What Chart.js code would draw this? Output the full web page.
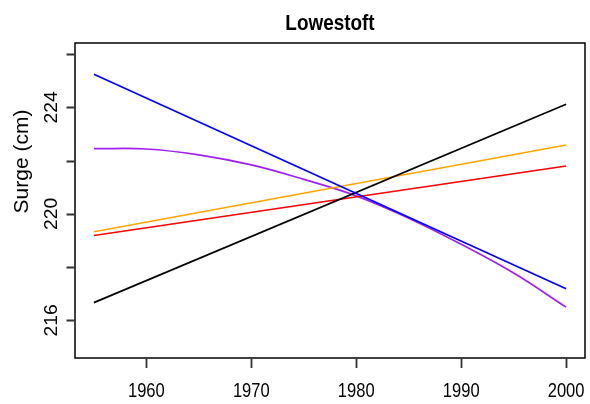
<!DOCTYPE html>
<html>
<head>
<meta charset="utf-8">
<script src="https://cdn.jsdelivr.net/npm/chart.js@4/dist/chart.umd.min.js"></script>
<style>
  html, body { margin: 0; padding: 0; background: #ffffff; }
  #wrap { width: 590px; height: 404px; }
</style>
</head>
<body>
<div id="wrap"><canvas id="c" width="590" height="404"></canvas></div>
<script>
// Fitted surge trends at Lowestoft (cm)
const lineYears = [1955, 2000];
const blueTrend = [225.25, 217.19];
const blackTrend = [216.67, 224.12];
const orangeTrend = [219.33, 222.59];
const redTrend = [219.19, 221.80];

const curveYears = [1955, 1960, 1965, 1970, 1975, 1980, 1985, 1990, 1995, 2000];
const purpleTrend = [222.45, 222.44, 222.22, 221.84, 221.30, 220.68, 219.84, 218.86, 217.78, 216.50];

const xTicks = [1960, 1970, 1980, 1990, 2000];
const yTicks = [216, 218, 220, 222, 224, 226];
const yTickLabels = ['216', '', '220', '', '224', ''];

const titleText = 'Lowestoft';
const yAxisTitle = 'Surge (cm)';

const FONT = '"Liberation Sans", Arial, Helvetica, sans-serif';
const GY = 1.17;   // vertical stretch of lettering
const NARROW = 0.92;

function pts(xs, ys) {
  return xs.map((x, i) => ({ x: x, y: ys[i] }));
}

function drawText(ctx, str, x, y, size, weight, rot, narrow) {
  ctx.save();
  ctx.translate(x, y);
  ctx.scale(1, GY);
  ctx.rotate(rot);
  ctx.scale(narrow, 1);
  ctx.font = weight + ' ' + size + 'px ' + FONT;
  ctx.fillStyle = '#000000';
  ctx.textAlign = 'center';
  ctx.textBaseline = 'alphabetic';
  ctx.fillText(str, 0, 0);
  ctx.restore();
}

// Box, axis ticks and lettering in the base-graphics style
const frame = {
  id: 'frame',
  afterDraw(chart) {
    const ctx = chart.ctx;
    const a = chart.chartArea;
    const xs = chart.scales.x, ys = chart.scales.y;

    ctx.save();
    ctx.strokeStyle = '#000000';
    ctx.lineWidth = 1.5;
    ctx.strokeRect(a.left, a.top, a.right - a.left, a.bottom - a.top);

    ctx.strokeStyle = '#333333';
    ctx.lineWidth = 1.8;
    ctx.beginPath();
    xTicks.forEach(v => {
      const px = Math.round(xs.getPixelForValue(v)) + 0.5;
      ctx.moveTo(px, a.bottom);
      ctx.lineTo(px, a.bottom + 10);
    });
    yTicks.forEach(v => {
      const py = Math.round(ys.getPixelForValue(v)) + 0.5;
      ctx.moveTo(a.left, py);
      ctx.lineTo(a.left - 8.5, py);
    });
    ctx.stroke();
    ctx.restore();

    xTicks.forEach(v => {
      drawText(ctx, String(v), xs.getPixelForValue(v), 397.4, 18, 'normal', 0, NARROW);
    });
    yTicks.forEach((v, i) => {
      if (yTickLabels[i]) {
        drawText(ctx, yTickLabels[i], 57.3, ys.getPixelForValue(v), 18, 'normal', -Math.PI / 2, NARROW);
      }
    });
    drawText(ctx, yAxisTitle, 27.5, 161.5, 19.5, 'normal', -Math.PI / 2, NARROW);
    drawText(ctx, titleText, (a.left + a.right) / 2, 30, 19.5, 'bold', 0, 0.97);
  }
};

const lineStyle = { borderWidth: 1.7, pointRadius: 0, fill: false };

new Chart(document.getElementById('c'), {
  type: 'line',
  data: {
    datasets: [
      Object.assign({ label: 'blue', data: pts(lineYears, blueTrend), borderColor: '#0000FF' }, lineStyle),
      Object.assign({ label: 'black', data: pts(lineYears, blackTrend), borderColor: '#000000' }, lineStyle),
      Object.assign({ label: 'orange', data: pts(lineYears, orangeTrend), borderColor: '#FFA500' }, lineStyle),
      Object.assign({ label: 'red', data: pts(lineYears, redTrend), borderColor: '#FF0000' }, lineStyle),
      Object.assign({ label: 'purple', data: pts(curveYears, purpleTrend), borderColor: '#A020F0', tension: 0.4 }, lineStyle)
    ]
  },
  options: {
    responsive: false,
    animation: false,
    layout: { padding: { left: 75, top: 43, right: 5, bottom: 46 } },
    plugins: { legend: { display: false }, tooltip: { enabled: false }, title: { display: false } },
    scales: {
      x: { type: 'linear', display: false, min: 1953.2, max: 2001.8 },
      y: { type: 'linear', display: false, min: 214.59, max: 226.42 }
    }
  },
  plugins: [frame]
});
</script>
</body>
</html>
